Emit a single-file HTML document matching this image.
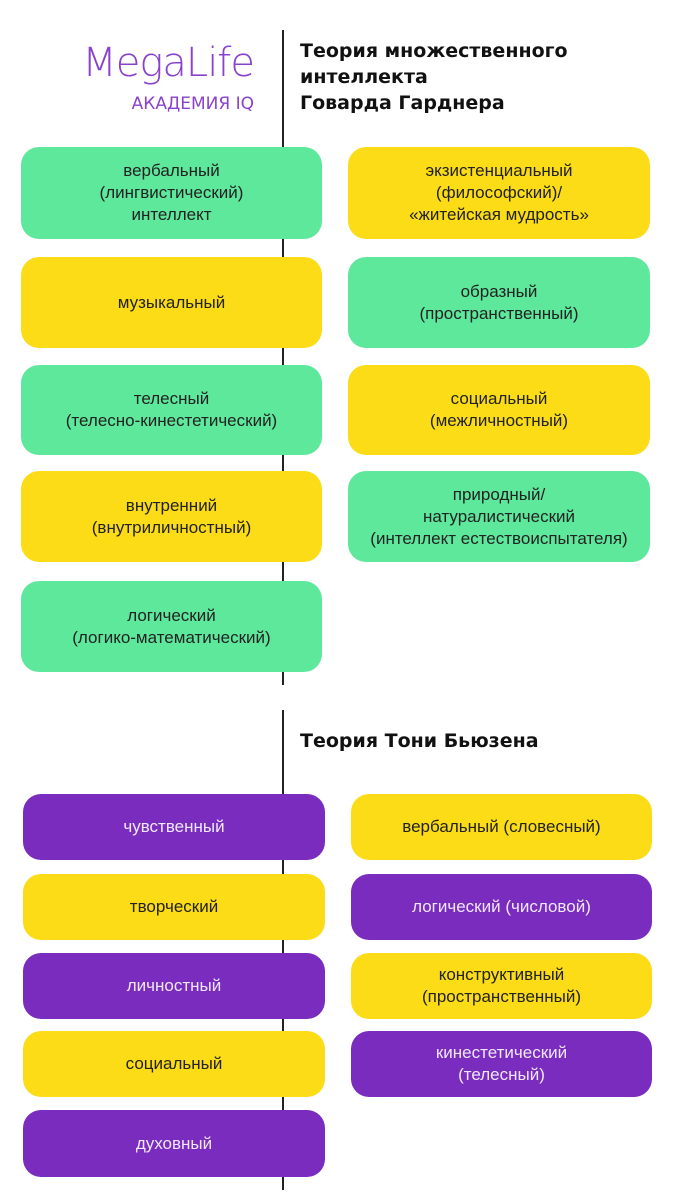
<!DOCTYPE html>
<html><head><meta charset="utf-8"><style>
body{margin:0;width:675px;height:1200px;background:#fff;position:relative;overflow:hidden;font-family:"Liberation Sans","DejaVu Sans",sans-serif}
.l{position:absolute;left:282px;width:2px;background:#222}
.b{position:absolute;border-radius:18px;display:flex;align-items:center;justify-content:center;text-align:center;font-size:17px;line-height:22px;color:#222}
.g{background:#5de89c}.y{background:#fbdc17}.p{background:#7a2cbf;color:#f0e8fa}
.t{position:absolute;left:300px;font-family:"DejaVu Sans",sans-serif;font-size:19px;line-height:26px;color:#111;font-weight:bold}
</style></head><body>
<div class="l" style="top:30px;height:655px"></div>
<div class="l" style="top:710px;height:480px"></div>
<div style="position:absolute;right:421px;top:40px;font-size:40px;color:#8a42cc;font-family:'DejaVu Sans',sans-serif;font-weight:300;letter-spacing:-1px">MegaLife</div>
<div style="position:absolute;right:421px;top:94px;font-size:17px;color:#8a42cc;font-family:'DejaVu Sans',sans-serif">АКАДЕМИЯ IQ</div>
<div class="t" style="top:38px">Теория множественного<br>интеллекта<br>Говарда Гарднера</div>
<div class="t" style="top:728px">Теория Тони Бьюзена</div>

<div class="b g" style="left:21px;top:147px;width:301px;height:92px">вербальный<br>(лингвистический)<br>интеллект</div>
<div class="b y" style="left:21px;top:257px;width:301px;height:91px">музыкальный</div>
<div class="b g" style="left:21px;top:365px;width:301px;height:90px">телесный<br>(телесно-кинестетический)</div>
<div class="b y" style="left:21px;top:471px;width:301px;height:91px">внутренний<br>(внутриличностный)</div>
<div class="b g" style="left:21px;top:581px;width:301px;height:91px">логический<br>(логико-математический)</div>
<div class="b y" style="left:348px;top:147px;width:302px;height:92px">экзистенциальный<br>(философский)/<br>«житейская мудрость»</div>
<div class="b g" style="left:348px;top:257px;width:302px;height:91px">образный<br>(пространственный)</div>
<div class="b y" style="left:348px;top:365px;width:302px;height:90px">социальный<br>(межличностный)</div>
<div class="b g" style="left:348px;top:471px;width:302px;height:91px">природный/<br>натуралистический<br>(интеллект естествоиспытателя)</div>

<div class="b p" style="left:23px;top:794px;width:302px;height:66px">чувственный</div>
<div class="b y" style="left:23px;top:874px;width:302px;height:66px">творческий</div>
<div class="b p" style="left:23px;top:953px;width:302px;height:66px">личностный</div>
<div class="b y" style="left:23px;top:1031px;width:302px;height:66px">социальный</div>
<div class="b p" style="left:23px;top:1110px;width:302px;height:67px">духовный</div>
<div class="b y" style="left:351px;top:794px;width:301px;height:66px">вербальный (словесный)</div>
<div class="b p" style="left:351px;top:874px;width:301px;height:66px">логический (числовой)</div>
<div class="b y" style="left:351px;top:953px;width:301px;height:66px">конструктивный<br>(пространственный)</div>
<div class="b p" style="left:351px;top:1031px;width:301px;height:66px">кинестетический<br>(телесный)</div>
</body></html>
